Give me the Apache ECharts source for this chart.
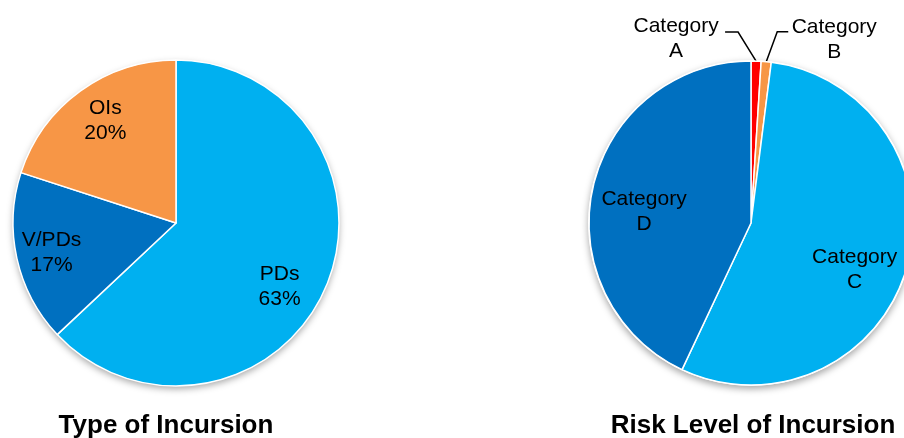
<!DOCTYPE html>
<html>
<head>
<meta charset="utf-8">
<script src="https://cdn.jsdelivr.net/npm/echarts@6/dist/echarts.min.js"></script>
<style>
html,body{margin:0;padding:0;background:#fff;}
#chart{width:904px;height:438px;}
</style>
</head>
<body>
<div id="chart"></div>
<script>
// Data
const typeTitle = 'Type of Incursion';
const typeCategories = ['PDs', 'V/PDs', 'OIs'];
const typeValues = [63, 17, 20];

const riskTitle = 'Risk Level of Incursion';
const riskCategories = ['Category A', 'Category B', 'Category C', 'Category D'];
const riskValues = [1, 1, 55, 43];

// Styles
const typeColors = ['#00B0F0', '#0070C0', '#F79646'];
const typeLabelOffsets = [[26, 30], [-42, 11], [-21, -34]];
const riskColors = ['#FF0000', '#F79646', '#00B0F0', '#0070C0'];
const riskLabelOffsets = [[0, 0], [0, 0], [23, 23], [-25, 7]];

const FONT = '"Liberation Sans", Arial, sans-serif';
const R = 163;
const leftCenter = [176, 223];
const rightCenter = [751, 223];

const chart = echarts.init(document.getElementById('chart'), null, { renderer: 'canvas' });

function shadowPie(center) {
  return {
    type: 'pie', silent: true, z: 1, animation: false,
    center: center, radius: R,
    label: { show: false }, labelLine: { show: false },
    itemStyle: { color: '#ffffff', shadowBlur: 7, shadowOffsetY: 3, shadowColor: 'rgba(0,0,0,0.35)' },
    data: [{ value: 1, name: '' }]
  };
}

const typeData = typeCategories.map((c, i) => ({
  name: c, value: typeValues[i],
  itemStyle: { color: typeColors[i] },
  label: { offset: typeLabelOffsets[i] }
}));

const riskData = riskCategories.map((c, i) => {
  const outside = i < 2;
  return {
    name: c, value: riskValues[i],
    itemStyle: { color: riskColors[i] },
    label: outside ? { position: 'outside' } : { position: 'inside', offset: riskLabelOffsets[i] },
    labelLine: { show: outside }
  };
});

const labelText = {
  color: '#000', fontFamily: FONT, fontSize: 21, lineHeight: 25, align: 'center'
};

chart.setOption({
  animation: false,
  backgroundColor: '#ffffff',
  series: [
    shadowPie(leftCenter),
    shadowPie(rightCenter),
    {
      type: 'pie', z: 2,
      center: leftCenter, radius: R,
      startAngle: 90, clockwise: true,
      avoidLabelOverlap: false,
      itemStyle: { borderColor: '#ffffff', borderWidth: 1.5 },
      label: Object.assign({ show: true, position: 'inside', formatter: '{b}\n{d}%' }, labelText),
      labelLine: { show: false },
      emphasis: { disabled: true },
      data: typeData
    },
    {
      type: 'pie', z: 2,
      center: rightCenter, radius: R - 1,
      startAngle: 90, clockwise: true,
      avoidLabelOverlap: false,
      itemStyle: { borderColor: '#ffffff', borderWidth: 1.5 },
      label: Object.assign({
        show: true,
        formatter: p => p.name.replace(' ', '\n')
      }, labelText),
      labelLine: { show: false, lineStyle: { color: '#000', width: 1.5 } },
      labelLayout: function (params) {
        if (params.dataIndex > 1 || !params.labelLinePoints) return {};
        const p0 = params.labelLinePoints[0];
        if (params.dataIndex === 0) {
          return {
            x: p0[0] - 80, y: p0[1] - 22, align: 'center', verticalAlign: 'middle',
            labelLinePoints: [[p0[0], p0[1]], [p0[0] - 18, p0[1] - 29], [p0[0] - 31, p0[1] - 29]]
          };
        }
        return {
          x: p0[0] + 68, y: p0[1] - 22, align: 'center', verticalAlign: 'middle',
          labelLinePoints: [[p0[0], p0[1]], [p0[0] + 11, p0[1] - 30], [p0[0] + 22, p0[1] - 30]]
        };
      },
      emphasis: { disabled: true },
      data: riskData
    }
  ],
  graphic: [
    {
      type: 'text', x: 166, y: 426,
      style: { text: typeTitle, font: 'bold 26px ' + FONT, fill: '#000', align: 'center', verticalAlign: 'middle', textAlign: 'center', textVerticalAlign: 'middle' }
    },
    {
      type: 'text', x: 753, y: 426,
      style: { text: riskTitle, font: 'bold 26px ' + FONT, fill: '#000', align: 'center', verticalAlign: 'middle', textAlign: 'center', textVerticalAlign: 'middle' }
    }
  ]
});
</script>
</body>
</html>
